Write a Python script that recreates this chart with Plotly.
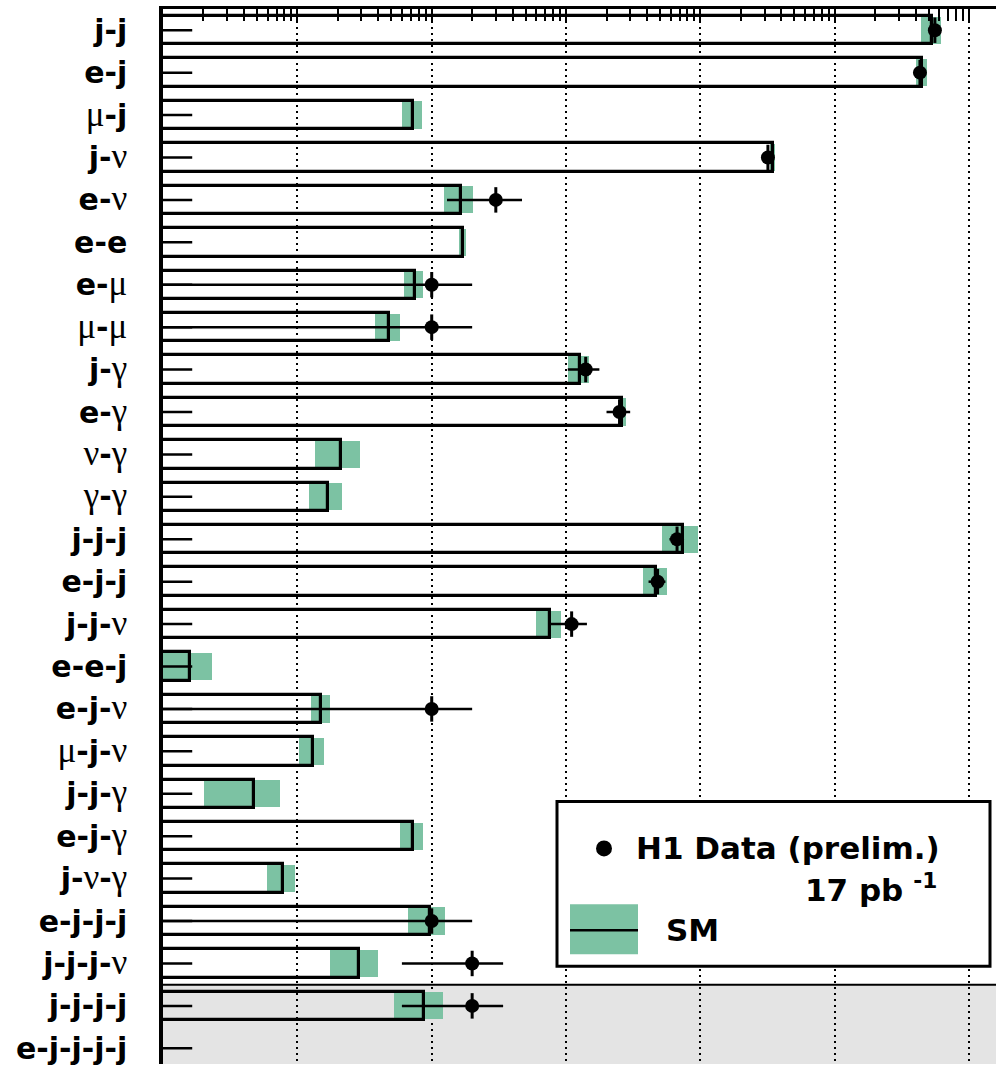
import plotly.graph_objects as go

# ---------------- data ----------------
CATEGORIES = ["j-j", "e-j", "μ-j", "j-ν", "e-ν", "e-e", "e-μ", "μ-μ", "j-γ", "e-γ",
              "ν-γ", "γ-γ", "j-j-j", "e-j-j", "j-j-ν", "e-e-j", "e-j-ν", "μ-j-ν",
              "j-j-γ", "e-j-γ", "j-ν-γ", "e-j-j-j", "j-j-j-ν", "j-j-j-j", "e-j-j-j-j"]

SM_VALUES = [5285, 4430, 0.72, 346, 1.64, 1.70, 0.747, 0.478, 12.6, 26.3,
             0.213, 0.168, 73.9, 47.1, 7.56, 0.0158, 0.151, 0.130,
             0.0473, 0.722, 0.0777, 0.966, 0.286, 0.872, None]

SM_ERRORS = [900, 400, 0.12, 15, 0.40, 0.10, 0.12, 0.10, 2.3, 1.5,
             0.078, 0.046, 22, 9.5, 1.6, 0.0073, 0.024, 0.027,
             0.027, 0.14, 0.018, 0.30, 0.11, 0.35, None]

DATA_VALUES = [5560, 4305, None, 318, 3, None, 1, 1, 14, 25,
               None, None, 67, 48, 11, None, 1, None,
               None, None, None, 1, 2, 2, None]

DATA_ERRORS = [75, 66, None, 18, 1.7, None, 1.0, 1.0, 3.7, 5.0,
               None, None, 8.2, 6.9, 3.3, None, 1.0, None,
               None, None, None, 1.0, 1.4, 1.4, None]

LEGEND_DATA = "H1 Data (prelim.)"
LEGEND_LUMI = "17 pb"
LEGEND_SM = "SM"

# ---------------- style ----------------
GREEN = "rgb(124,194,163)"
GREY = "rgb(228,228,228)"
BAR_W = 0.67
STUB_X = (0.005, 0.0165)
GREEK = set("μνγ")
SHADED_FROM = 22.5

W, H = 996, 1066
ML, MR, MT, MB = 163, 0, 9, 0


def label_html(cat):
    out = []
    for p in cat.split("-"):
        if p in GREEK:
            out.append('<span style="font-family:Liberation Serif;font-weight:normal;'
                       'font-size:35px">%s</span>' % p)
        else:
            out.append("<b>%s</b>" % p)
    return "<b>-</b>".join(out)


def px_x(px):
    return (px - ML) / (W - ML - MR)


def px_y(py):
    return 1 - (py - MT) / (H - MT - MB)


rows = list(range(len(CATEGORIES)))
fig = go.Figure()

# SM uncertainty bands
band_y, band_base, band_len = [], [], []
for i, (v, e) in enumerate(zip(SM_VALUES, SM_ERRORS)):
    if v is None:
        continue
    band_y.append(i)
    band_base.append(v - e if v - e > 0 else v / 3)
    band_len.append((v + e) - band_base[-1])
fig.add_trace(go.Bar(orientation="h", y=band_y, x=band_len, base=band_base,
                     width=BAR_W - 0.03, marker=dict(color=GREEN, line=dict(width=0)),
                     showlegend=False, hoverinfo="skip"))

# SM outline bars
sm_y = [i for i, v in enumerate(SM_VALUES) if v is not None]
sm_x = [v for v in SM_VALUES if v is not None]
fig.add_trace(go.Bar(orientation="h", y=sm_y, x=sm_x, width=BAR_W,
                     marker=dict(color="rgba(0,0,0,0)", line=dict(color="black", width=3.2)),
                     showlegend=False, hoverinfo="skip"))

# short stubs at the left of each row
sx, sy = [], []
for i in rows:
    sx += [STUB_X[0], STUB_X[1], None]
    sy += [i, i, None]
fig.add_trace(go.Scatter(x=sx, y=sy, mode="lines", line=dict(color="black", width=2.5),
                         showlegend=False, hoverinfo="skip"))

# data points
dx = [v for v in DATA_VALUES if v is not None]
dy = [i for i, v in enumerate(DATA_VALUES) if v is not None]
de = [e for e in DATA_ERRORS if e is not None]
fig.add_trace(go.Scatter(x=dx, y=dy, mode="markers",
                         marker=dict(color="black", size=14, symbol="circle"),
                         error_x=dict(type="data", array=de, symmetric=True,
                                      color="black", thickness=2.5, width=0),
                         error_y=dict(type="constant", value=0.3, color="black",
                                      thickness=3, width=0),
                         showlegend=False, hoverinfo="skip"))

shapes = [
    # grey shaded region for the last rows
    dict(type="rect", xref="paper", yref="y", x0=0, x1=1, y0=SHADED_FROM, y1=25,
         fillcolor=GREY, line=dict(width=0), layer="below"),
    dict(type="line", xref="paper", yref="y", x0=0, x1=1, y0=SHADED_FROM, y1=SHADED_FROM,
         line=dict(color="black", width=2), layer="between"),
    # legend box
    dict(type="rect", xref="paper", yref="paper", x0=px_x(557), x1=px_x(990),
         y0=px_y(968), y1=px_y(803), fillcolor="white",
         line=dict(color="black", width=3), layer="above"),
    dict(type="circle", xref="paper", yref="paper", x0=px_x(596), x1=px_x(612),
         y0=px_y(858), y1=px_y(842), fillcolor="black",
         line=dict(color="black", width=0), layer="above"),
    dict(type="rect", xref="paper", yref="paper", x0=px_x(570), x1=px_x(638),
         y0=px_y(956), y1=px_y(906), fillcolor=GREEN, line=dict(width=0), layer="above"),
    dict(type="line", xref="paper", yref="paper", x0=px_x(570), x1=px_x(638),
         y0=px_y(932), y1=px_y(932), line=dict(color="black", width=2.5), layer="above"),
]

LFONT = dict(family="DejaVu Sans", size=31, color="black")
annotations = [
    dict(xref="paper", yref="paper", x=px_x(634), y=px_y(850), xanchor="left",
         yanchor="middle", text="<b>%s</b>" % LEGEND_DATA, showarrow=False, font=LFONT),
    dict(xref="paper", yref="paper", x=px_x(803), y=px_y(890), xanchor="left",
         yanchor="middle", text="<b>%s</b> <sup><b>-1</b></sup>" % LEGEND_LUMI,
         showarrow=False, font=LFONT),
    dict(xref="paper", yref="paper", x=px_x(664), y=px_y(932), xanchor="left",
         yanchor="middle", text="<b>%s</b>" % LEGEND_SM, showarrow=False, font=LFONT),
]

fig.update_layout(
    width=W, height=H, margin=dict(l=ML, r=MR, t=MT, b=MB, pad=0),
    paper_bgcolor="white", plot_bgcolor="white",
    barmode="overlay", bargap=0, showlegend=False,
    shapes=shapes, annotations=annotations,
    xaxis=dict(type="log", range=[-2, 4.2], side="top", showline=True,
               linecolor="black", linewidth=3, ticks="inside", ticklen=13,
               tickwidth=2, tickcolor="black", dtick=1, showticklabels=False,
               showgrid=True, gridcolor="black", gridwidth=2, griddash="2px,4px",
               zeroline=False,
               minor=dict(dtick="D1", ticks="inside", ticklen=12, tickwidth=2,
                          tickcolor="black", showgrid=False)),
    yaxis=dict(range=[24.37, -0.5], tickmode="array", tickvals=rows,
               ticktext=[label_html(c) for c in CATEGORIES],
               showline=True, linecolor="black", linewidth=3.5, ticks="",
               showgrid=False, zeroline=False, ticklabelstandoff=26,
               ticklabeloverflow="allow",
               tickfont=dict(family="DejaVu Sans", size=30, color="black")),
)

fig.write_html("out.html")
